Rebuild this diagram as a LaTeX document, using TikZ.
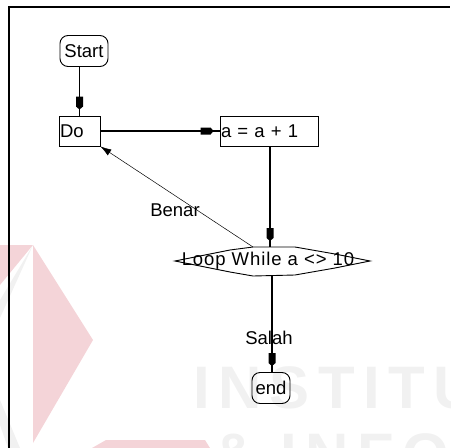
\documentclass[tikz,border=0pt]{standalone}
\usepackage{fontspec}
\setmainfont{Liberation Sans}
\usetikzlibrary{arrows.meta,decorations.markings}
\definecolor{wmpink}{RGB}{244,212,216}
\definecolor{wmgray}{RGB}{241,241,241}
\begin{document}
\begin{tikzpicture}[x=1pt,y=-1pt,
  every node/.style={font=\fontsize{18.5}{20}\selectfont, inner sep=1pt},
  term/.style={draw, line width=0.9pt, rounded corners=8pt, minimum height=31pt},
  boxnode/.style={draw, line width=0.9pt, minimum height=30pt, align=left},
  lbl/.style={fill=none, inner sep=0pt},
  sqtip/.style={postaction={decorate,decoration={markings,mark=at position 1 with {\fill[black] (-19pt,-3.5pt) -- (-9pt,-3.5pt) -- (-6pt,0pt) -- (-9pt,3.5pt) -- (-19pt,3.5pt) -- cycle;}}}},
  conn/.style={line width=1.1pt, sqtip},
  back/.style={line width=0.5pt, -{Latex[length=11pt,width=7pt]}}
]
\useasboundingbox (0,0) rectangle (451,448);
% watermark
\fill[wmpink] (33,245) -- (93,340) -- (33,443) -- cycle;
\fill[wmpink] (0,245) -- (33,245) -- (0,285) -- cycle;
\fill[wmgray] (33,245) -- (0,318) -- (0,300) -- cycle;
\fill[wmgray] (0,400) -- (20,448) -- (8,448) -- (0,425) -- cycle;
\fill[wmpink] (92,448) -- (106,440) -- (205,440) -- (210,448) -- cycle;
\node[anchor=base west, text=wmgray, inner sep=0pt, font=\fontsize{60}{60}\selectfont\bfseries\addfontfeature{LetterSpace=14}] (wm1) at (193,408) {INSTITU};
\node[anchor=base west, text=wmgray, inner sep=0pt, font=\fontsize{60}{60}\selectfont\bfseries\addfontfeature{LetterSpace=14}] (wm2) at (212,475) {\& INFO};
% frame
\draw[line width=2pt] (9,448) -- (9,7) -- (450,7);
% nodes
\node[term, minimum width=48pt] (start) at (84,51) {Start};
\node[boxnode, text width=39pt, minimum width=41pt] (do) at (79.5,131) {Do};
\node[boxnode, text width=96pt, minimum width=98pt] (inc) at (269,131) {a = a + 1};
\node[minimum width=195pt, minimum height=29pt] (loop) at (272,261.5) {};
\draw[line width=0.9pt] (175,261) -- (230,250) -- (253,247) -- (295,247) -- (335,254) -- (370,261) -- (335,268) -- (295,275) -- (253,276) -- (230,272) -- cycle;
\node[font=\fontsize{18.5}{20}\selectfont\addfontfeature{LetterSpace=5}] (looptxt) at (268,261) {Loop While a <> 10};
\coordinate (loopTL) at (253,247);
\coordinate (loopT) at (270,247);
\coordinate (loopB) at (272,276);
\node[term, minimum width=38pt] (end) at (271,388) {end};
% connectors
\draw[conn] (start.south -| do.north) -- (do.north);
\draw[conn] (do.east) -- (inc.west);
\draw[conn] (inc.south -| loopT) -- (loopT);
\draw[conn] (loopB) -- (loopB |- end.north);
\draw[back] (loopTL) -- (do.south east);
% labels
\node[lbl] (benar) at (175,210) {Benar};
\node[lbl] (salah) at (269,338) {Salah};
\end{tikzpicture}
\end{document}
